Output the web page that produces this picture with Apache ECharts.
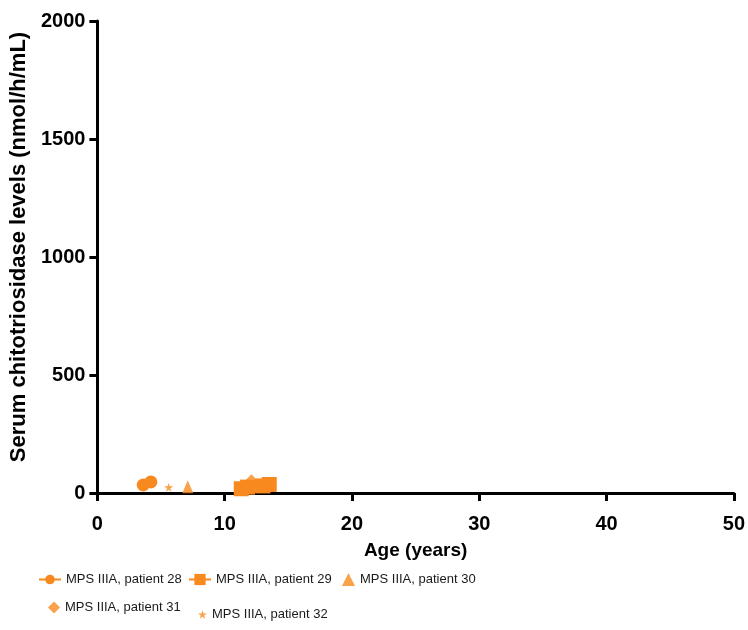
<!DOCTYPE html>
<html>
<head>
<meta charset="utf-8">
<script src="https://cdn.jsdelivr.net/npm/echarts@6/dist/echarts.min.js"></script>
<style>
  html, body { margin: 0; padding: 0; background: #fff; }
  #chart { width: 748px; height: 630px; }
</style>
</head>
<body>
<div id="chart"></div>
<script>
// Serum chitotriosidase levels by age, MPS IIIA patients
const xTicks = [0, 10, 20, 30, 40, 50];
const yTicks = [0, 500, 1000, 1500, 2000];

const patient28 = [[3.6, 34], [4.2, 47]];
const patient29 = [[11.3, 18], [11.8, 25], [13.0, 30], [13.5, 36]];
const patient30 = [[7.1, 27]];
const patient31 = [[12.1, 50], [12.4, 30]];
const patient32 = [[5.6, 24]];

const seriesNames = [
  'MPS IIIA, patient 28',
  'MPS IIIA, patient 29',
  'MPS IIIA, patient 30',
  'MPS IIIA, patient 31',
  'MPS IIIA, patient 32'
];

const orange = '#F7891E';
const labelFont = '"Liberation Sans", Arial, sans-serif';
const starPath = 'path://M50,0 L61,35 L98,35 L68,57 L79,91 L50,70 L21,91 L32,57 L2,35 L39,35 Z';

const legendText = { fontFamily: labelFont, fontSize: 13, color: '#1a1a1a' };

// one legend box per entry so each entry sits where it belongs
function legendBox(name, left, top, w, h) {
  return {
    data: [name], left: left, top: top,
    itemWidth: w, itemHeight: h, itemGap: 0,
    textStyle: legendText
  };
}

const chart = echarts.init(document.getElementById('chart'));

chart.setOption({
  animation: false,
  grid: { left: 97, right: 13, top: 21, bottom: 137, containLabel: false },
  xAxis: {
    type: 'value', min: 0, max: 50, interval: 10,
    name: 'Age (years)', nameLocation: 'middle', nameGap: 48,
    nameTextStyle: { fontFamily: labelFont, fontWeight: 'bold', fontSize: 19, color: '#000' },
    axisLine: { lineStyle: { color: '#000', width: 3 } },
    axisTick: { show: true, length: 8, lineStyle: { color: '#000', width: 3 } },
    axisLabel: { fontFamily: labelFont, fontWeight: 'bold', fontSize: 20, color: '#000', margin: 21,
      formatter: v => String(v) },
    splitLine: { show: false }
  },
  yAxis: {
    type: 'value', min: 0, max: 2000, interval: 500,
    name: 'Serum chitotriosidase levels (nmol/h/mL)', nameLocation: 'middle', nameGap: 62,
    nameTextStyle: { fontFamily: labelFont, fontWeight: 'bold', fontSize: 22, color: '#000',
      padding: [0, 0, 0, 20] },
    axisLine: { show: true, lineStyle: { color: '#000', width: 3 } },
    axisTick: { show: true, length: 8, lineStyle: { color: '#000', width: 3 } },
    axisLabel: { fontFamily: labelFont, fontWeight: 'bold', fontSize: 20, color: '#000', margin: 12,
      formatter: v => String(v) },
    splitLine: { show: false }
  },
  legend: [
    legendBox(seriesNames[0], 33, 568, 22, 12),
    legendBox(seriesNames[1], 183, 568, 22, 14),
    legendBox(seriesNames[2], 337, 568, 13, 13),
    legendBox(seriesNames[3], 43, 596, 12, 12),
    legendBox(seriesNames[4], 193, 603, 9, 9)
  ],
  series: [
    { name: seriesNames[0], type: 'line', data: patient28, symbol: 'circle', symbolSize: 13,
      lineStyle: { color: orange, width: 3 }, itemStyle: { color: orange } },
    { name: seriesNames[1], type: 'line', data: patient29, symbol: 'rect', symbolSize: 15,
      lineStyle: { color: orange, width: 3 }, itemStyle: { color: orange } },
    { name: seriesNames[2], type: 'scatter', data: patient30, symbol: 'triangle', symbolSize: [11, 13],
      itemStyle: { color: orange } },
    { name: seriesNames[3], type: 'scatter', data: patient31, symbol: 'diamond', symbolSize: 14,
      itemStyle: { color: orange } },
    { name: seriesNames[4], type: 'scatter', data: patient32, symbol: starPath,
      symbolSize: 9, itemStyle: { color: orange } }
  ]
});
</script>
</body>
</html>
